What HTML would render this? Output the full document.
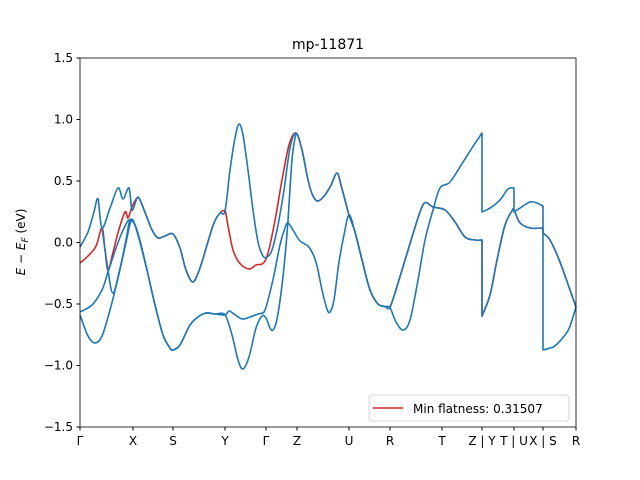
<!DOCTYPE html>
<html><head><meta charset="utf-8"><style>
body{margin:0;background:#fff}
svg{display:block;font-family:"DejaVu Sans","Liberation Sans",sans-serif}
</style></head><body>
<svg id="chart" width="640" height="480" viewBox="0 0 640 480">
<rect width="640" height="480" fill="#fff"/>
<text x="328" y="49" font-size="14" text-anchor="middle">mp-11871</text>
<g id="bands"></g>
<rect x="80" y="58" width="496" height="369" fill="none" stroke="#000" stroke-width="0.8"/>
<g id="yticks"></g>
<g id="xticks"></g>
<text transform="translate(25,242) rotate(-90)" font-size="12" text-anchor="middle"><tspan font-style="italic">E</tspan> − <tspan font-style="italic">E</tspan><tspan font-style="italic" font-size="9" dy="3">F</tspan><tspan dy="-3"> (eV)</tspan></text>
<g>
<rect x="369" y="395" width="200" height="26" rx="3" fill="#fff" stroke="#ccc" stroke-width="0.8"/>
<line x1="373" y1="408" x2="403" y2="408" stroke="#d62728" stroke-width="1.5"/>
<text x="413" y="413" font-size="12">Min flatness: 0.31507</text>
</g>
</svg>
<script>
const kLabels=["Γ","X","S","Y","Γ","Z","U","R","T","Z | Y","T | U","X | S","R"];
const kTicks=[0,53,93,145,186,217,269,310,362,402,434,463,496];
const yTickVals=[-1.5,-1.0,-0.5,0.0,0.5,1.0,1.5];
const bandB2=[[0,-0.037],[8,0.085],[14,0.25],[18,0.354],[22,0.118],[30,0.280],[38,0.443],[43,0.354],[49,0.443],[52,0.264],[57,0.362],[60,0.346],[66,0.224],[72,0.102],[78,0.037],[85,0.053],[93,0.069],[100,-0.045],[106,-0.224],[113,-0.321],[120,-0.207],[127,-0.020],[134,0.159],[140,0.240],[145,0.256],[150,0.589],[155,0.850],[159,0.963],[163,0.874],[168,0.589],[173,0.264],[178,0.004],[183,-0.110],[187,-0.118],[192,-0.061],[198,0.142],[204,0.427],[210,0.768],[216,0.890],[222,0.752],[228,0.508],[233,0.378],[238,0.337],[245,0.386],[251,0.467],[257,0.565],[261,0.467],[265,0.346],[269,0.224],[275,0.085],[282,-0.142],[290,-0.386],[298,-0.500],[305,-0.520],[310,-0.524],[318,-0.330],[327,-0.090],[336,0.150],[342,0.290],[346,0.325],[353,0.289],[365,0.264],[375,0.167],[385,0.045],[395,0.020],[402,0.020],[402,-0.598],[410,-0.427],[417,-0.142],[425,0.142],[432,0.256],[434,0.264],[440,0.159],[450,0.118],[463,0.118],[463,0.077],[470,0.020],[480,-0.159],[490,-0.386],[496,-0.524]];
const bandV=[[22,0.118],[28,-0.224],[33,-0.411],[40,-0.210],[46,0.020],[50,0.183],[55,0.142],[60,0.012],[67,-0.224]];
const bandB3=[[0,-0.565],[12,-0.508],[22,-0.386],[28,-0.240],[38,0.000],[46,0.150],[50,0.183],[55,0.142],[60,0.012],[67,-0.224],[75,-0.508],[83,-0.752],[90,-0.858],[93,-0.874],[100,-0.833],[110,-0.671],[118,-0.606],[126,-0.573],[135,-0.581],[145,-0.589],[149,-0.557],[154,-0.581],[162,-0.622],[170,-0.606],[178,-0.581],[184,-0.565],[188,-0.467],[194,-0.264],[200,-0.020],[205,0.118],[208,0.159],[213,0.102],[220,0.012],[229,-0.037],[236,-0.159],[242,-0.386],[247,-0.541],[250,-0.565],[254,-0.467],[259,-0.159],[264,0.061],[269,0.224],[275,0.085],[282,-0.142],[290,-0.386],[298,-0.500],[305,-0.520],[310,-0.530],[316,-0.646],[323,-0.711],[330,-0.630],[338,-0.305],[345,0.020],[353,0.264],[360,0.443],[370,0.492],[383,0.654],[392,0.768],[402,0.890],[402,0.248],[410,0.280],[420,0.346],[428,0.435],[434,0.443],[434,0.248],[440,0.280],[450,0.329],[457,0.321],[463,0.297],[463,-0.874],[470,-0.858],[475,-0.841],[485,-0.752],[490,-0.680],[496,-0.524]];
const bandB4=[[0,-0.589],[8,-0.760],[15,-0.817],[22,-0.760],[30,-0.549],[38,-0.289],[46,0.000],[50,0.150],[53,0.183],[58,0.061],[67,-0.224],[75,-0.508],[83,-0.752],[90,-0.858],[93,-0.874],[100,-0.833],[110,-0.671],[118,-0.606],[126,-0.573],[135,-0.581],[145,-0.589],[152,-0.752],[158,-0.955],[163,-1.028],[169,-0.931],[176,-0.695],[182,-0.598],[186,-0.614],[190,-0.695],[193,-0.711],[197,-0.622],[202,-0.346],[207,0.069],[212,0.671],[216,0.890]];
const redStart=[[0,-0.167],[8,-0.110],[16,-0.030],[22,0.118],[25,-0.060],[28,-0.224],[33,-0.080],[38,0.080],[45,0.248],[48,0.199],[52,0.290],[57,0.362]];
const redMid=[[147,0.180],[150,0.050],[153,-0.061],[158,-0.150],[164,-0.199],[170,-0.215],[176,-0.183],[182,-0.175],[186,-0.134],[190,-0.020],[196,0.224],[202,0.508],[209,0.793],[216,0.890]];

const X0=80,X1=576,Y0=58,Y1=427,KMAX=496,EMIN=-1.5,EMAX=1.5;
const sx=k=>X0+(k/KMAX)*(X1-X0);
const sy=e=>Y1-(e-EMIN)/(EMAX-EMIN)*(Y1-Y0);
const NS="http://www.w3.org/2000/svg";
const g=document.getElementById('bands');
function smooth(pts){
  const P=pts.map(q=>[sx(q[0]),sy(q[1])]);
  let segs=[[P[0]]];
  for(let i=1;i<P.length;i++){
    if(Math.abs(P[i][0]-P[i-1][0])<0.01){segs.push([P[i-1],P[i]]);segs.push([P[i]]);}
    else segs[segs.length-1].push(P[i]);
  }
  let d='M'+P[0][0].toFixed(1)+','+P[0][1].toFixed(1);
  segs.forEach(s=>{
    if(s.length<2)return;
    if(s.length===2&&Math.abs(s[0][0]-s[1][0])<0.01){d+='L'+s[1][0].toFixed(1)+','+s[1][1].toFixed(1);return;}
    for(let i=0;i<s.length-1;i++){
      const p0=s[Math.max(i-1,0)],p1=s[i],p2=s[i+1],p3=s[Math.min(i+2,s.length-1)];
      const c1=[p1[0]+(p2[0]-p0[0])/6,p1[1]+(p2[1]-p0[1])/6];
      const c2=[p2[0]-(p3[0]-p1[0])/6,p2[1]-(p3[1]-p1[1])/6];
      d+='C'+c1[0].toFixed(1)+','+c1[1].toFixed(1)+' '+c2[0].toFixed(1)+','+c2[1].toFixed(1)+' '+p2[0].toFixed(1)+','+p2[1].toFixed(1);
    }
  });
  return d;
}
function draw(pts,color,name){
  const p=document.createElementNS(NS,'path');
  p.setAttribute('d',smooth(pts));
  p.setAttribute('fill','none');p.setAttribute('stroke',color);p.setAttribute('stroke-width','1.6');
  p.setAttribute('stroke-linejoin','round');
  
  
  g.appendChild(p);
}
const redBand=redStart.concat(bandB2.filter(q=>q[0]>=60&&q[0]<=145),redMid,bandB2.filter(q=>q[0]>=222));
draw(redBand,'#d62728','min-flatness-band');
draw(bandB4,'#1f77b4','band-4');
draw(bandB3,'#1f77b4','band-3');
draw(bandV,'#1f77b4','band-crossing');
draw(bandB2,'#1f77b4','band-2');

const yt=document.getElementById('yticks');
yTickVals.forEach(v=>{
  const y=sy(v);
  const l=document.createElementNS(NS,'line');
  l.setAttribute('x1',X0-3.5);l.setAttribute('x2',X0);l.setAttribute('y1',y);l.setAttribute('y2',y);l.setAttribute('stroke','#000');
  
  
  yt.appendChild(l);
  const t=document.createElementNS(NS,'text');
  t.setAttribute('x',X0-7);t.setAttribute('y',y+4);t.setAttribute('text-anchor','end');t.setAttribute('font-size','12');
  t.textContent=(v<0?'−':'')+Math.abs(v).toFixed(1);
  
  
  yt.appendChild(t);
});
const xt=document.getElementById('xticks');
kTicks.forEach((k,i)=>{
  const x=sx(k);
  const l=document.createElementNS(NS,'line');
  l.setAttribute('x1',x);l.setAttribute('x2',x);l.setAttribute('y1',Y1);l.setAttribute('y2',Y1+3.5);l.setAttribute('stroke','#000');
  
  
  xt.appendChild(l);
  const t=document.createElementNS(NS,'text');
  t.setAttribute('x',x);t.setAttribute('y',Y1+18);t.setAttribute('text-anchor','middle');t.setAttribute('font-size','12');
  t.textContent=kLabels[i];
  
  
  xt.appendChild(t);
});
</script>
</body></html>
